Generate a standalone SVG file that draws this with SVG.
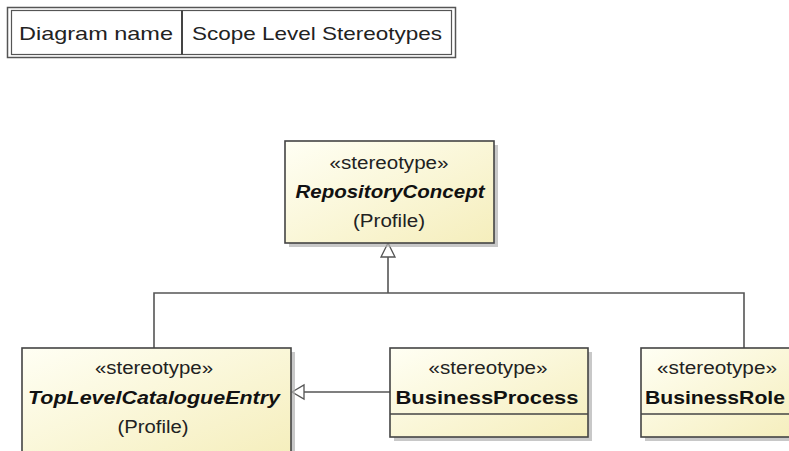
<svg xmlns="http://www.w3.org/2000/svg" width="789" height="451" viewBox="0 0 789 451">
<defs>
<linearGradient id="fill" x1="0" y1="0" x2="1" y2="1">
<stop offset="0" stop-color="#fffff4"/>
<stop offset="1" stop-color="#f5eebc"/>
</linearGradient>
<style>
.box{fill:url(#fill);stroke:#444;stroke-width:1.6}
.shadow{fill:#b0b0b0;opacity:0.7}
.st{font-family:"Liberation Sans",Arial,sans-serif;font-size:18px;fill:#222;text-anchor:middle}
.nm{font-family:"Liberation Sans",Arial,sans-serif;font-size:19px;font-weight:bold;fill:#111;text-anchor:middle}
.it{font-style:italic}
.lbl{font-family:"Liberation Sans",Arial,sans-serif;font-size:19px;fill:#222}
.conn{fill:none;stroke:#555;stroke-width:1.6}
.tri{fill:#fff;stroke:#555;stroke-width:1.3}
</style>
</defs>
<rect width="789" height="451" fill="#fff"/>
<g id="diagram-name">
<rect x="7.5" y="7.5" width="448" height="50" fill="#fff" stroke="#555" stroke-width="1.5"/>
<rect x="11.5" y="10.5" width="440" height="44" fill="#fff" stroke="#555" stroke-width="1.2"/>
<line x1="182" y1="10.5" x2="182" y2="54.5" stroke="#444" stroke-width="2"/>
<text class="lbl" x="19" y="40" textLength="154" lengthAdjust="spacingAndGlyphs">Diagram name</text>
<text class="lbl" x="192" y="40" textLength="250" lengthAdjust="spacingAndGlyphs">Scope Level Stereotypes</text>
</g>
<g id="connectors">
<path class="conn" d="M388,293 V256"/>
<path class="tri" d="M388,243 L381,257 L395,257 Z"/>
<path class="conn" d="M154,348 V293 H744 V348"/>
<path class="conn" d="M390,392 H303"/>
<path class="tri" d="M292,392 L304,385 L304,399 Z"/>
</g>
<g id="RepositoryConcept">
<rect class="shadow" x="289" y="145" width="209" height="102"/>
<rect class="box" x="285" y="141" width="209" height="102"/>
<text class="st" x="389" y="169" textLength="119" lengthAdjust="spacingAndGlyphs">«stereotype»</text>
<text class="nm it" x="390" y="198" textLength="189" lengthAdjust="spacingAndGlyphs">RepositoryConcept</text>
<text class="st" x="389" y="227" textLength="72" lengthAdjust="spacingAndGlyphs">(Profile)</text>
</g>
<g id="TopLevelCatalogueEntry">
<rect class="shadow" x="26" y="352" width="269" height="110"/>
<rect class="box" x="22" y="348" width="269" height="110"/>
<text class="st" x="154" y="374" textLength="118" lengthAdjust="spacingAndGlyphs">«stereotype»</text>
<text class="nm it" x="154" y="404" textLength="252" lengthAdjust="spacingAndGlyphs">TopLevelCatalogueEntry</text>
<text class="st" x="153" y="433" textLength="71" lengthAdjust="spacingAndGlyphs">(Profile)</text>
</g>
<g id="BusinessProcess">
<rect class="shadow" x="394" y="352" width="198" height="89"/>
<rect class="box" x="390" y="348" width="198" height="89"/>
<line x1="390" y1="414" x2="588" y2="414" stroke="#444" stroke-width="1.4"/>
<text class="st" x="488" y="374" textLength="119" lengthAdjust="spacingAndGlyphs">«stereotype»</text>
<text class="nm" x="487" y="404" textLength="183" lengthAdjust="spacingAndGlyphs">BusinessProcess</text>
</g>
<g id="BusinessRole">
<rect class="shadow" x="645" y="352" width="160" height="89"/>
<rect class="box" x="641" y="348" width="160" height="89"/>
<line x1="641" y1="414" x2="801" y2="414" stroke="#444" stroke-width="1.4"/>
<text class="st" x="717" y="374" textLength="120" lengthAdjust="spacingAndGlyphs">«stereotype»</text>
<text class="nm" x="715" y="404" textLength="140" lengthAdjust="spacingAndGlyphs">BusinessRole</text>
</g>
</svg>
